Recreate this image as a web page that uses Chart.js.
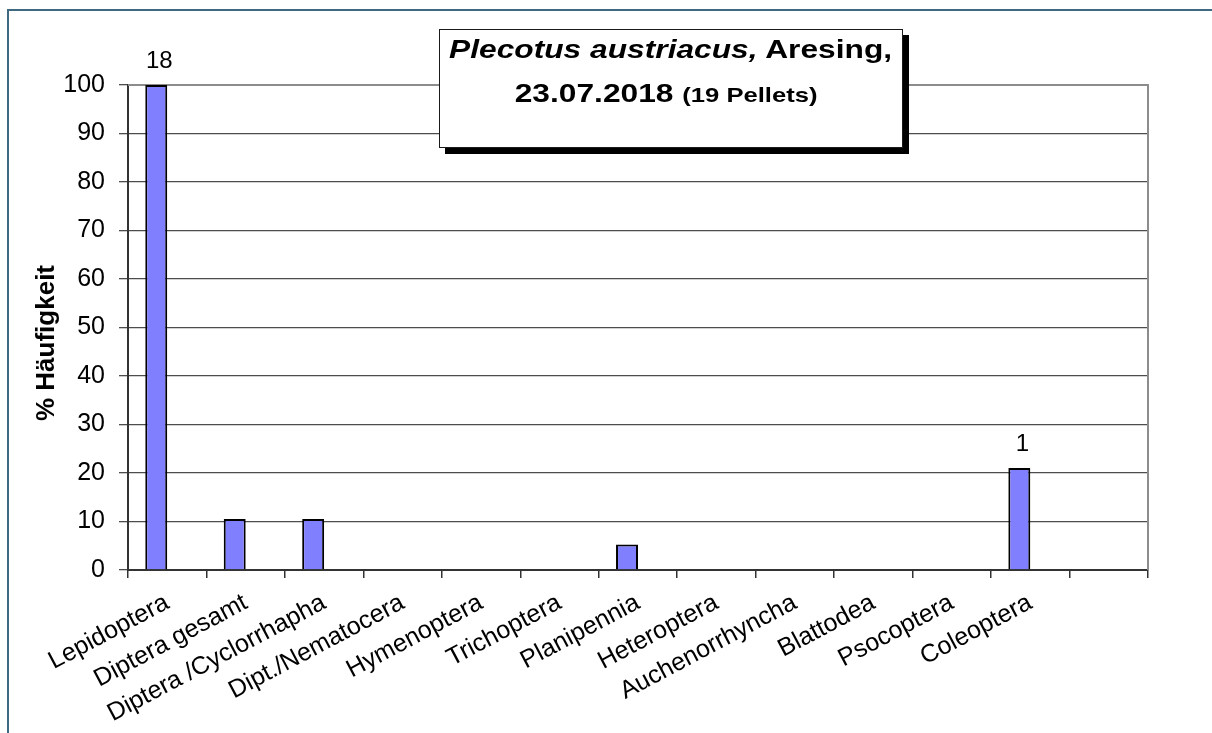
<!DOCTYPE html>
<html>
<head>
<meta charset="utf-8">
<script src="https://cdn.jsdelivr.net/npm/chart.js@4.4.1/dist/chart.umd.min.js"></script>
<style>
  html, body { margin: 0; padding: 0; background: #fff; overflow: hidden; }
  #wrap { position: relative; width: 1212px; height: 733px; }
  #frame { position: absolute; left: 7px; top: 9px; width: 1400px; height: 1000px;
           border: 2px solid #3e6981; box-sizing: border-box; }
  #chart { position: absolute; left: 0; top: 0; }
  #titleBox { position: absolute; left: 439px; top: 29px; width: 464px; height: 119px;
              background: #fff; border: 1px solid #1a1a1a; box-sizing: border-box;
              box-shadow: 6px 6px 0 #000; text-align: center;
              font-family: "Liberation Sans", Arial, sans-serif; font-weight: bold; color: #000; }
  #titleBox .line { position: relative; top: -3px; font-size: 26px; line-height: 44px; white-space: nowrap; }
  #titleBox .line2 { left: -5px; }
  #titleBox .line span.st { display: inline-block; transform: scaleX(1.22); transform-origin: center; }
  #titleBox .small { font-size: 21px; }
</style>
</head>
<body>
<div id="wrap">
  <div id="frame"></div>
  <canvas id="chart" width="1212" height="733"></canvas>
  <div id="titleBox">
    <div class="line"><span class="st"><i>Plecotus austriacus,</i> Aresing,</span></div>
    <div class="line line2"><span class="st">23.07.2018 <span class="small">(19 Pellets)</span></span></div>
  </div>
</div>
<script>
const categories = [
  "Lepidoptera", "Diptera gesamt", "Diptera /Cyclorrhapha", "Dipt./Nematocera",
  "Hymenoptera", "Trichoptera", "Planipennia", "Heteroptera",
  "Auchenorrhyncha", "Blattodea", "Psocoptera", "Coleoptera", ""
];
// % Häufigkeit, leere Kategorien ohne Balken
const haeufigkeit = [100, 10.53, 10.53, null, null, null, 5.26, null, null, null, null, 21.05, null];
// zweite (leere) Reihe, wie im Original
const leereReihe = [null, null, null, null, null, null, null, null, null, null, null, null, null];
const balkenBeschriftung = ["18", "", "", "", "", "", "", "", "", "", "", "1", ""];
const yAchsenTitel = "% Häufigkeit";
const yMin = 0;
const yMax = 100;
const yStep = 10;

const fontFamily = '"Liberation Sans", Arial, sans-serif';

// Rahmen der Zeichenfläche (oben, rechts)
const plotBorder = {
  id: "plotBorder",
  beforeDatasetsDraw(chart) {
    const { ctx, chartArea } = chart;
    ctx.save();
    ctx.strokeStyle = "#8c8c8c";
    ctx.lineWidth = 2;
    ctx.beginPath();
    ctx.moveTo(chartArea.left, chartArea.top);
    ctx.lineTo(chartArea.right, chartArea.top);
    ctx.lineTo(chartArea.right, chartArea.bottom);
    ctx.stroke();
    ctx.restore();
  }
};

// Zahlen über den Balken + Achsentitel
const barLabels = {
  id: "barLabels",
  afterDatasetsDraw(chart) {
    const { ctx } = chart;
    const meta = chart.getDatasetMeta(0);
    ctx.save();
    ctx.font = "24px " + fontFamily;
    ctx.fillStyle = "#000";
    ctx.textAlign = "center";
    ctx.textBaseline = "alphabetic";
    meta.data.forEach((bar, i) => {
      if (!balkenBeschriftung[i] || haeufigkeit[i] == null) return;
      ctx.fillText(balkenBeschriftung[i], bar.x + 3, bar.y - 17);
    });
    // y-Achsentitel etwas unterhalb der Mitte, wie im Original
    ctx.translate(47, 343);
    ctx.rotate(-Math.PI / 2);
    ctx.font = "bold 26px " + fontFamily;
    ctx.textBaseline = "middle";
    ctx.fillText(yAchsenTitel, 0, 0);
    ctx.restore();
  }
};

const ctx = document.getElementById("chart").getContext("2d");
new Chart(ctx, {
  type: "bar",
  data: {
    labels: categories,
    datasets: [
      {
        data: haeufigkeit,
        backgroundColor: "#8080ff",
        borderColor: "#000",
        borderWidth: 2,
        borderSkipped: "bottom",
        categoryPercentage: 0.56,
        barPercentage: 1.0,
      },
      {
        data: leereReihe,
        backgroundColor: "#993366",
        borderColor: "#000",
        borderWidth: 2,
        categoryPercentage: 0.56,
        barPercentage: 1.0,
      },
    ],
  },
  options: {
    responsive: false,
    animation: false,
    layout: { padding: { left: 33, top: 85, right: 64, bottom: 0 } },
    plugins: {
      legend: { display: false },
      tooltip: { enabled: false },
    },
    scales: {
      x: {
        grid: {
          offset: true,
          drawOnChartArea: false,
          drawTicks: true,
          tickLength: 8,
          color: "#333",
          lineWidth: 1.5,
        },
        border: { color: "#333", width: 2 },
        ticks: {
          autoSkip: false,
          minRotation: 28,
          maxRotation: 28,
          padding: 10,
          color: "#000",
          font: { family: fontFamily, size: 25 },
        },
        afterFit(scale) { scale.height = 733 - 570; },
      },
      y: {
        min: yMin,
        max: yMax,
        ticks: {
          stepSize: yStep,
          padding: 14,
          color: "#000",
          font: { family: fontFamily, size: 25 },
        },
        grid: { color: "#4d4d4d", lineWidth: 1.3, tickLength: 9 },
        border: { color: "#333", width: 2 },
        afterFit(scale) { scale.width = 128 - 33; },
      },
    },
  },
  plugins: [plotBorder, barLabels],
});
</script>
</body>
</html>
